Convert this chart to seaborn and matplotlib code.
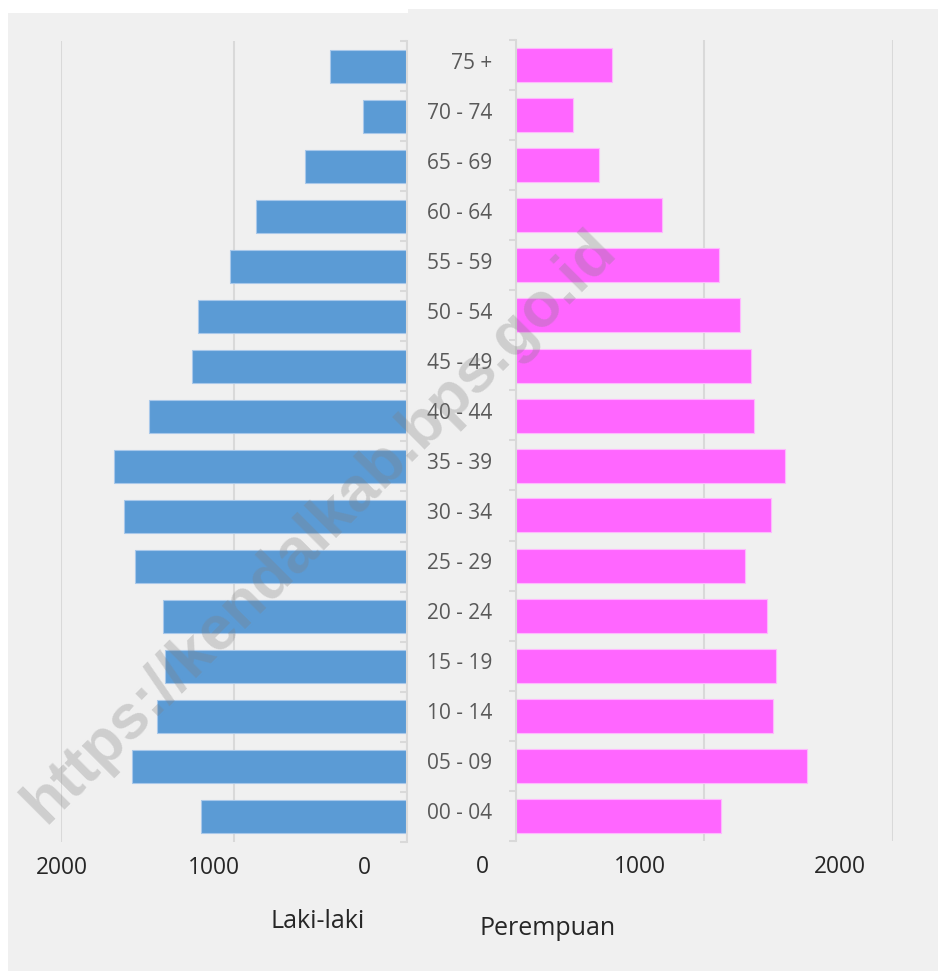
import matplotlib
matplotlib.use('Agg')
import matplotlib.pyplot as plt
import matplotlib.transforms as mtransforms
import seaborn as sns
import pandas as pd
import numpy as np
from matplotlib.patches import Rectangle

age_groups = ["75 +", "70 - 74", "65 - 69", "60 - 64", "55 - 59", "50 - 54",
              "45 - 49", "40 - 44", "35 - 39", "30 - 34", "25 - 29", "20 - 24",
              "15 - 19", "10 - 14", "05 - 09", "00 - 04"]
laki_laki = [443, 254, 588, 869, 1021, 1205, 1243, 1490, 1694, 1634, 1569, 1409,
             1401, 1443, 1588, 1189]
perempuan = [513, 302, 440, 774, 1076, 1189, 1248, 1262, 1426, 1355, 1218, 1331,
             1378, 1362, 1544, 1089]
x_ticks = [0, 1000, 2000]
x_tick_labels = ["0", "1000", "2000"]
label_left = "Laki-laki"
label_right = "Perempuan"
watermark = "https://kendalkab.bps.go.id"

sns.set_theme(style="white")
plt.rcParams['font.family'] = ['Open Sans', 'DejaVu Sans']

W, H = 940, 971
fig = plt.figure(figsize=(W / 100, H / 100), dpi=100, facecolor='white')


def px_rect(x0, y0, x1, y1):
    return [x0 / W, 1 - y1 / H, (x1 - x0) / W, (y1 - y0) / H]


bg = '#f0f0f0'
fig.patches.append(Rectangle((8 / W, 0), (408 - 8) / W, (H - 13) / H,
                             transform=fig.transFigure, facecolor=bg,
                             edgecolor='none', zorder=-10))
fig.patches.append(Rectangle((408 / W, 0), (938 - 408) / W, (H - 9) / H,
                             transform=fig.transFigure, facecolor=bg,
                             edgecolor='none', zorder=-10))

axL = fig.add_axes(px_rect(61, 41.5, 406.7, 841.5))
axR = fig.add_axes(px_rect(515.5, 40.5, 893, 840.5))

df = pd.DataFrame({'age': age_groups, 'L': laki_laki, 'P': perempuan})

sns.barplot(data=df, x='L', y='age', ax=axL, color='#5B9BD5', saturation=1,
            width=0.67, edgecolor='#a8c8ea', linewidth=0.8, errorbar=None)
sns.barplot(data=df, x='P', y='age', ax=axR, color='#FF66FF', saturation=1,
            width=0.68, edgecolor='#ffb8ff', linewidth=0.8, errorbar=None)

grid_c = '#d9d9d9'
n = len(age_groups)
bounds = np.arange(n + 1) - 0.5

for ax in (axL, axR):
    ax.set_facecolor('none')
    ax.set_xlabel('')
    ax.set_ylabel('')
    ax.set_xticks(x_ticks)
    ax.set_xticklabels([])
    ax.tick_params(axis='x', length=0)
    ax.xaxis.grid(True, color=grid_c, linewidth=1.5)
    ax.yaxis.grid(False)
    ax.set_axisbelow(True)
    ax.set_ylim(n - 0.5, -0.5)
    for s in ax.spines.values():
        s.set_visible(False)
    ax.set_yticks(bounds, minor=True)

axL.set_xlim(2000, 0)
axR.set_xlim(0, 2000)

# left panel: axis on the right side, ticks pointing inward
axL.yaxis.tick_right()
axL.spines['right'].set_visible(True)
axL.spines['right'].set_color(grid_c)
axL.spines['right'].set_linewidth(1.5)
axL.tick_params(axis='y', which='major', length=0, labelright=False, labelleft=False)
axL.tick_params(axis='y', which='minor', direction='in', length=5, width=1.5,
                color=grid_c, right=True, left=False)

# right panel: axis on the left with category labels
axR.spines['left'].set_visible(True)
axR.spines['left'].set_color(grid_c)
axR.spines['left'].set_linewidth(1.5)
axR.tick_params(axis='y', which='major', length=0, pad=17, labelsize=15,
                labelcolor='#595959')
axR.tick_params(axis='y', which='minor', direction='out', length=5, width=1.5,
                color=grid_c, left=True)
shift_up = mtransforms.ScaledTranslation(0, 3 / 72, fig.dpi_scale_trans)
for lab in axR.get_yticklabels():
    lab.set_transform(lab.get_transform() + shift_up)

# value labels under each panel (positioned as in the reference)
txt_c = '#262626'
left_pos = [364, 214, 62]
right_pos = [482.6, 639.7, 839.4]
for lab, xp in zip(x_tick_labels, left_pos):
    fig.text(xp / W, 1 - 868 / H, lab, ha='center', va='center',
             fontsize=16.4, color=txt_c)
for lab, xp in zip(x_tick_labels, right_pos):
    fig.text(xp / W, 1 - 866.6 / H, lab, ha='center', va='center',
             fontsize=16.4, color=txt_c)

fig.text(317.5 / W, 1 - 921.7 / H, label_left, ha='center', va='center',
         fontsize=18, color=txt_c)
fig.text(547.4 / W, 1 - 928 / H, label_right, ha='center', va='center',
         fontsize=18, color=txt_c)

fig.text(320 / W, 1 - 527 / H, watermark, ha='center', va='center',
         rotation=45, rotation_mode='anchor', fontsize=45,
         family=['Liberation Sans', 'DejaVu Sans'], weight='bold',
         color='#808080', alpha=0.3, zorder=20)

fig.savefig('out.png', dpi=100, facecolor='white')
